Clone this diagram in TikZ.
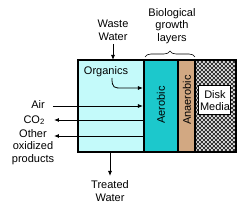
\documentclass[tikz,border=0pt]{standalone}
\usepackage{fontspec}
\setmainfont{Liberation Sans}
\usetikzlibrary{arrows.meta,patterns,decorations.pathreplacing}
\definecolor{water}{HTML}{C4FAFA}
\definecolor{aer}{HTML}{1CC8CC}
\definecolor{anaer}{HTML}{D2A882}
\pgfdeclarepatternformonly{finecheck}{\pgfpointorigin}{\pgfqpoint{4pt}{4pt}}{\pgfqpoint{4pt}{4pt}}{%
  \pgfpathrectangle{\pgfpointorigin}{\pgfqpoint{2pt}{2pt}}%
  \pgfpathrectangle{\pgfqpoint{2pt}{2pt}}{\pgfqpoint{2pt}{2pt}}%
  \pgfusepath{fill}}
\begin{document}
\begin{tikzpicture}[x=1pt,y=-1pt,
  lbl/.style={font=\fontsize{11}{12.5}\selectfont,align=center,inner sep=0pt},
  conn/.style={line width=0.8pt,-{Latex[length=5pt,width=4pt]}},
  wall/.style={line width=1.2pt}]
\useasboundingbox (0,0) rectangle (250,213);
% regions
\fill[water] (78,60) rectangle (144,152);
\fill[aer] (144,60) rectangle (178,152);
\fill[anaer] (178,60) rectangle (195,152);
\fill[gray!30] (195,60) rectangle (236,152);
\fill[pattern=finecheck,pattern color=black!80] (195,60) rectangle (236,152);
\draw[wall] (78,60) rectangle (236,152);
\draw[wall] (144,60) -- (144,152) (178,60) -- (178,152) (195,60) -- (195,152);
\node[draw,line width=1pt,fill=white,minimum width=32pt,minimum height=29pt,lbl] (disk) at (215,100.5) {Disk\\Media};
\node[lbl,rotate=90] (aero) at (161,105) {Aerobic};
\node[lbl,rotate=90] (anaero) at (187,100) {Anaerobic};
% brace
\draw[line width=0.6pt,decorate,decoration={brace,amplitude=6pt,raise=0pt}] (145,57) -- (195,57);
\node[lbl] (bio) at (172,26) {Biological\\growth\\layers};
% texts
\node[lbl] (waste) at (113,30.5) {Waste\\Water};
\coordinate (wtop) at (113,60);
\coordinate (ws) at (113,44);
\draw[conn] (ws) -- (wtop);
\node[lbl] (org) at (106,72) {Organics};
\coordinate (ostart) at (112,78);
\coordinate (oend) at (143,88);
\draw[conn] (ostart) .. controls (112,88) and (114,88) .. (122,88) -- (oend);
\node[lbl,anchor=east] (air) at (45,105) {Air};
\coordinate (airstart) at (53,106);
\coordinate (airend) at (143,106);
\draw[conn] (airstart) -- (airend);
\node[lbl,anchor=east] (co2) at (45,120) {CO\textsubscript{2}};
\coordinate (co2start) at (144,120);
\coordinate (co2end) at (54,120);
\draw[conn] (co2start) -- (co2end);
\node[lbl] (oth) at (33,147) {Other\\oxidized\\products};
\coordinate (othstart) at (144,136);
\coordinate (othend) at (54,136);
\draw[conn] (othstart) -- (othend);
\coordinate (tstart) at (110,152);
\coordinate (tend) at (110,176);
\node[lbl] (treated) at (110,191) {Treated\\Water};
\draw[conn] (tstart) -- (tend);
\end{tikzpicture}
\end{document}
